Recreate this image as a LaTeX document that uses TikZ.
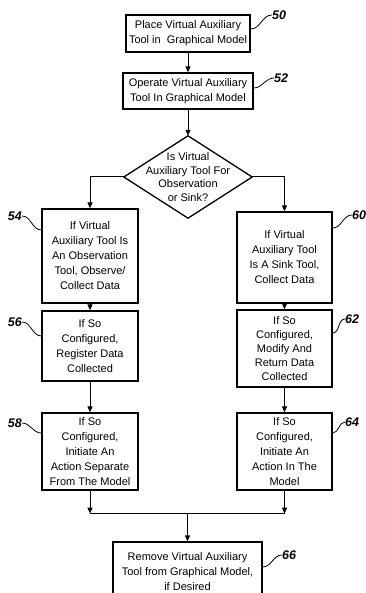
\documentclass[tikz,border=0pt]{standalone}
\usepackage{fontspec}
\setmainfont{Liberation Sans}
\usetikzlibrary{shapes,arrows.meta}
\usetikzlibrary{positioning}
\tikzset{stepbox/.style={draw, line width=1.3pt, align=center, inner sep=0pt,
    font=\fontsize{11}{15}\selectfont},
  tag/.style={font=\fontsize{12.5}{14}\selectfont\bfseries\itshape, inner sep=0pt},
  flow/.style={line width=1pt, -{Triangle[length=6pt,width=5pt]}},
  squig/.style={line width=0.8pt, out=0, in=180}
}

\begin{document}
\begin{tikzpicture}[x=1pt, y=-1pt, on grid]
      \useasboundingbox (0,0) rectangle (365,593);
      \node[stepbox, minimum width=124pt, minimum height=37pt] (b50) at (188,33.5)
            {Place Virtual Auxiliary\\Tool in\ \ Graphical Model};
      \node[stepbox, minimum width=130pt, minimum height=36pt] (b52) [below=57.5pt of b50]
            {Operate Virtual Auxiliary\\Tool In Graphical Model};
      \node[minimum width=128pt, minimum height=82pt, inner sep=0pt, align=center,
            font=\fontsize{11}{13.5}\selectfont] (dec) [below=86pt of b52]
            {Is Virtual\\Auxiliary Tool For\\Observation\\or Sink?};
      \draw[line width=1.3pt] (dec.north) -- (dec.east) -- (dec.south) -- (dec.west) -- cycle;
      \node[stepbox, minimum width=96pt, minimum height=94pt] (b54) [below left=79pt and 98pt of dec]
            {If Virtual\\Auxiliary Tool Is\\An Observation\\Tool, Observe/\\Collect Data};
      \node[stepbox, minimum width=95pt, minimum height=91pt] (b60) [below right=80.5pt and 96.5pt of dec]
            {If Virtual\\Auxiliary Tool\\Is A Sink Tool,\\Collect Data};
      \node[stepbox, minimum width=96pt, minimum height=70pt] (b56) [below=90pt of b54]
            {If So\\Configured,\\Register Data\\Collected};
      \node[stepbox, minimum width=95pt, minimum height=77pt, font=\fontsize{11}{14}\selectfont] (b62) [below=91pt of b60]
            {If So\\Configured,\\Modify And\\Return Data\\Collected};
      \node[stepbox, minimum width=96pt, minimum height=77pt] (b58) [below=105.5pt of b56]
            {If So\\Configured,\\Initiate An\\Action Separate\\From The Model};
      \node[stepbox, minimum width=95pt, minimum height=77pt] (b64) [below=103pt of b62]
            {If So\\Configured,\\Initiate An\\Action In The\\Model};
      \node[stepbox, minimum width=149pt, minimum height=60pt] (b66) at (187.5,572)
            {Remove Virtual Auxiliary\\Tool from Graphical Model,\\if Desired};
      % reference numerals
      \node[tag, anchor=west] (t50) at (272,15) {50};
      \node[tag, anchor=west] (t52) at (274,78) {52};
      \node[tag, anchor=east] (t54) at (22,216) {54};
      \node[tag, anchor=west] (t60) at (352,215) {60};
      \node[tag, anchor=east] (t56) at (22,322) {56};
      \node[tag, anchor=west] (t62) at (345,319) {62};
      \node[tag, anchor=east] (t58) at (22,423) {58};
      \node[tag, anchor=west] (t64) at (345,422) {64};
      \node[tag, anchor=west] (t66) at (282,555) {66};
      \draw[squig] ([yshift=4.5pt]b50.east) to (t50.west);
      \draw[squig] ([yshift=3pt]b52.east) to (t52.west);
      \draw[squig] (t54.east) to ([yshift=26pt]b54.west);
      \draw[squig] ([yshift=29.5pt]b60.east) to (t60.west);
      \draw[squig] (t56.east) to ([yshift=10pt]b56.west);
      \draw[squig] ([yshift=15.5pt]b62.east) to (t62.west);
      \draw[squig] (t58.east) to ([yshift=18.5pt]b58.west);
      \draw[squig] ([yshift=18.5pt]b64.east) to (t64.west);
      \draw[squig] ([yshift=5pt]b66.east) to (t66.west);
      % flow
      \coordinate (jl) at ([yshift=-23pt]b58.south);
      \coordinate (jr) at (b64.south |- jl);
      \coordinate (jm) at (b66.north |- jl);
      \draw[flow] (b50) -- (b52);
      \draw[flow] (b52) -- (dec.north);
      \draw[flow] (dec.west) -| (b54);
      \draw[flow] (dec.east) -| (b60);
      \draw[flow] (b54) -- (b56);
      \draw[flow] (b56) -- (b58);
      \draw[flow] (b60) -- (b62);
      \draw[flow] (b62) -- (b64);
      \draw[flow] (b58) -- (jl);
      \draw[flow] (b64) -- (jr);
      \draw[line width=1pt] (jl) -- (jr);
      \draw[flow] (jm) -- (b66);
    \end{tikzpicture}
\end{document}
